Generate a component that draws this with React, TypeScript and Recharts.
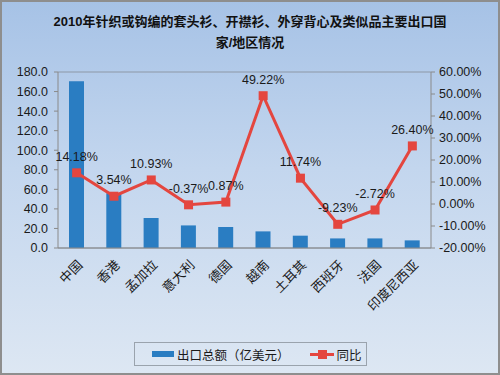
import { Bar, CartesianGrid, ComposedChart, LabelList, Line, XAxis, YAxis } from "recharts";

const categories = ["中国", "香港", "孟加拉", "意大利", "德国", "越南", "土耳其", "西班牙", "法国", "印度尼西亚"];
const exportTotals = [170.5, 56.0, 30.7, 23.1, 21.5, 17.0, 12.6, 9.8, 9.8, 7.8];
const yoyGrowth = [14.18, 3.54, 10.93, -0.37, 0.87, 49.22, 11.74, -9.23, -2.72, 26.4];
const leftTicks = [0, 20, 40, 60, 80, 100, 120, 140, 160, 180];
const rightTicks = [-20, -10, 0, 10, 20, 30, 40, 50, 60];

const FONT = '"Liberation Sans", Arial, "Noto Sans CJK SC", sans-serif';
const BAR_COLOR = "#2a7dc2";
const LINE_COLOR = "#e4463f";

const data = categories.map((name, i) => ({ name, total: exportTotals[i], yoy: yoyGrowth[i] }));

function CategoryTick({ x, y, payload }: any) {
  return (
    <g transform={`translate(${x + 4},${y + 7})`}>
      <text x={0} y={0} dy={4} textAnchor="end" transform="rotate(-45)" fontSize={13} fill="#1a1a1a" fontFamily={FONT}>
        {payload.value}
      </text>
    </g>
  );
}

function SquareDot({ cx, cy }: any) {
  if (cx == null || cy == null) return null;
  return <rect x={cx - 4.5} y={cy - 4.5} width={9} height={9} fill={LINE_COLOR} />;
}

export default function App() {
  return (
    <div
      style={{
        position: "absolute",
        left: 0,
        top: 0,
        width: 500,
        height: 375,
        background: "linear-gradient(to bottom, #a6c2e6 0%, #c3d6ee 45%, #dde7f3 100%)",
        fontFamily: FONT,
        overflow: "hidden",
      }}
    >
      <div
        style={{
          position: "absolute",
          top: 11,
          left: 0,
          width: 500,
          textAlign: "center",
          fontSize: 13,
          fontWeight: "bold",
          lineHeight: "21px",
          color: "#111",
        }}
      >
        2010年针织或钩编的套头衫、开襟衫、外穿背心及类似品主要出口国
        <br />
        家/地区情况
      </div>
      <ComposedChart width={500} height={375} data={data} margin={{ top: 72, right: 0, bottom: 0, left: 0 }}>
        <CartesianGrid vertical={false} stroke="#8d98a6" strokeWidth={1} />
        <XAxis
          dataKey="name"
          height={127}
          interval={0}
          tick={<CategoryTick />}
          tickLine={false}
          axisLine={{ stroke: "#8a8a8a" }}
        />
        <YAxis
          yAxisId="left"
          width={58}
          domain={[0, 180]}
          ticks={leftTicks}
          interval={0}
          tickFormatter={(v: number) => v.toFixed(1)}
          tick={{ fontSize: 12.5, fill: "#1a1a1a", fontFamily: FONT }}
          tickLine={{ stroke: "#8a8a8a" }}
          tickSize={4}
          tickMargin={6}
          axisLine={{ stroke: "#8a8a8a" }}
        />
        <YAxis
          yAxisId="right"
          orientation="right"
          width={69}
          domain={[-20, 60]}
          ticks={rightTicks}
          interval={0}
          tickFormatter={(v: number) => `${v.toFixed(2)}%`}
          tick={{ fontSize: 12.5, fill: "#1a1a1a", fontFamily: FONT, textAnchor: "start" }}
          tickLine={{ stroke: "#8a8a8a" }}
          tickSize={4}
          tickMargin={4}
          axisLine={{ stroke: "#8a8a8a" }}
        />
        <Bar yAxisId="left" dataKey="total" fill={BAR_COLOR} barSize={15} isAnimationActive={false} />
        <Line
          yAxisId="right"
          dataKey="yoy"
          stroke={LINE_COLOR}
          strokeWidth={3}
          dot={<SquareDot />}
          activeDot={false}
          isAnimationActive={false}
        >
          <LabelList
            dataKey="yoy"
            position="top"
            offset={12}
            formatter={(v: any) => `${Number(v).toFixed(2)}%`}
            style={{ fontSize: 12.5, fill: "#1a1a1a", fontFamily: FONT }}
          />
        </Line>
      </ComposedChart>
      <div
        style={{
          position: "absolute",
          left: 134,
          top: 342,
          width: 233,
          height: 24,
          border: "1px solid #9aa3ad",
          boxSizing: "border-box",
          display: "flex",
          alignItems: "center",
          fontSize: 12.5,
          color: "#1a1a1a",
          fontFamily: '"Noto Sans CJK SC", sans-serif',
        }}
      >
        <span style={{ display: "inline-block", width: 22, height: 6, background: BAR_COLOR, marginLeft: 17, marginRight: 3 }} />
        <span>出口总额（亿美元）</span>
        <span style={{ position: "relative", display: "inline-block", width: 24, height: 9, marginLeft: 20, marginRight: 3 }}>
          <span style={{ position: "absolute", left: 0, top: 3, width: 24, height: 3, background: LINE_COLOR }} />
          <span style={{ position: "absolute", left: 8, top: 0, width: 9, height: 9, background: LINE_COLOR }} />
        </span>
        <span>同比</span>
      </div>
      <div
        style={{
          position: "absolute",
          left: 0,
          top: 0,
          width: 500,
          height: 375,
          border: "2px solid #8e8e8e",
          boxSizing: "border-box",
          pointerEvents: "none",
        }}
      />
    </div>
  );
}
